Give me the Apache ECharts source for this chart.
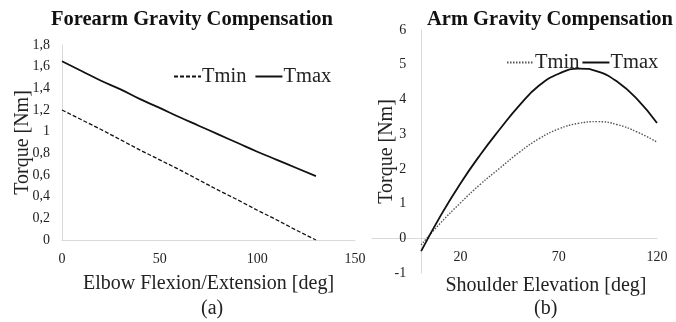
<!DOCTYPE html>
<html>
<head>
<meta charset="utf-8">
<script src="https://cdn.jsdelivr.net/npm/echarts@6/dist/echarts.min.js"></script>
<style>
  html, body { margin: 0; padding: 0; background: #fff; }
  #chart { width: 676px; height: 322px; }
</style>
</head>
<body>
<div id="chart"></div>
<script>
// (a) forearm
var forearmAngle = [0, 10, 20, 30, 40, 50, 60, 70, 80, 90, 100, 110, 120, 130];
var forearmTmin = [1.2, 1.11, 1.02, 0.925, 0.83, 0.74, 0.65, 0.555, 0.46, 0.37, 0.275, 0.185, 0.09, 0];
var forearmTmax = [1.65, 1.56, 1.47, 1.39, 1.3, 1.22, 1.135, 1.055, 0.975, 0.895, 0.815, 0.74, 0.665, 0.59];

// (b) arm
var armAngle = [0, 10, 20, 30, 40, 50, 60, 70, 80, 90, 100, 110, 120];
var armTmin = [-0.19, 0.45, 1.02, 1.55, 2.02, 2.48, 2.87, 3.15, 3.31, 3.36, 3.27, 3.06, 2.77];
var armTmax = [-0.37, 0.66, 1.58, 2.4, 3.14, 3.83, 4.4, 4.74, 4.89, 4.8, 4.5, 4.0, 3.32];

var forearmXTicks = [0, 50, 100, 150];
var armXTicks = [20, 70, 120];

function pairs(xs, ys) {
  return xs.map(function (x, i) { return [x, ys[i]]; });
}

var serif = 'Liberation Serif';
var txt = '#222';
var axisGray = '#d9d9d9';

// right plot: axes cross at (0, 0) like the Excel original
var gB = { left: 372, top: 30, width: 285, height: 243 };
var xMinB = -25, xMaxB = 120, yMinB = -1, yMaxB = 6;
var yAxisShift = (0 - xMinB) / (xMaxB - xMinB) * gB.width;
var xAxisShift = (0 - yMinB) / (yMaxB - yMinB) * gB.height;

var chart = echarts.init(document.getElementById('chart'));

var option = {
  animation: false,
  backgroundColor: '#fff',
  textStyle: { fontFamily: serif },
  title: [{
    text: 'Forearm Gravity Compensation',
    left: 46, top: 4,
    textStyle: { fontFamily: serif, fontWeight: 'bold', fontSize: 20.5, color: '#111' }
  }, {
    text: 'Arm Gravity Compensation',
    left: 422, top: 4,
    textStyle: { fontFamily: serif, fontWeight: 'bold', fontSize: 20.5, color: '#111' }
  }],
  legend: [{
    data: ['Forearm Tmin', 'Forearm Tmax'],
    left: 168, top: 61,
    itemWidth: 27, itemHeight: 10, itemGap: 8,
    itemStyle: { opacity: 0 },
    formatter: function (n) { return n.split(' ')[1]; },
    textStyle: { fontFamily: serif, fontSize: 20.5, color: txt, padding: [0, 0, 0, -4] }
  }, {
    data: ['Arm Tmin', 'Arm Tmax'],
    left: 501, top: 47,
    itemWidth: 27, itemHeight: 10, itemGap: 2,
    itemStyle: { opacity: 0 },
    formatter: function (n) { return n.split(' ')[1]; },
    textStyle: { fontFamily: serif, fontSize: 20.5, color: txt, padding: [0, 0, 0, -4] }
  }],
  grid: [
    { left: 62, top: 45, width: 293, height: 195, outerBoundsMode: 'none', containLabel: false },
    { left: gB.left, top: gB.top, width: gB.width, height: gB.height, outerBoundsMode: 'none', containLabel: false }
  ],
  xAxis: [{
    gridIndex: 0, type: 'value', min: 0, max: 150,
    axisLine: { lineStyle: { color: axisGray, width: 1 } },
    axisTick: { show: false },
    splitLine: { show: false },
    axisLabel: { customValues: forearmXTicks, fontFamily: serif, fontSize: 14, color: txt, margin: 12 },
    name: 'Elbow Flexion/Extension [deg]',
    nameLocation: 'middle', nameGap: 34, nameMoveOverlap: false,
    nameTextStyle: { fontFamily: serif, fontSize: 20, color: txt }
  }, {
    gridIndex: 1, type: 'value', min: xMinB, max: xMaxB,
    position: 'bottom', offset: -xAxisShift,
    axisLine: { onZero: false, lineStyle: { color: axisGray, width: 1 } },
    axisTick: { show: false },
    splitLine: { show: false },
    axisLabel: { customValues: armXTicks, fontFamily: serif, fontSize: 14, color: txt, margin: 12 },
    name: 'Shoulder Elevation [deg]',
    nameLocation: 'middle', nameGap: 37, nameMoveOverlap: false,
    nameTextStyle: { fontFamily: serif, fontSize: 20, color: txt, padding: [0, 0, 0, 63] }
  }],
  yAxis: [{
    gridIndex: 0, type: 'value', min: 0, max: 1.8, interval: 0.2,
    axisLine: { show: true, lineStyle: { color: axisGray, width: 1 } },
    axisTick: { show: false },
    splitLine: { show: false },
    axisLabel: {
      fontFamily: serif, fontSize: 14, color: txt, margin: 12,
      formatter: function (v) { return String(+v.toFixed(1)).replace('.', ','); }
    },
    name: 'Torque [Nm]',
    nameLocation: 'middle', nameGap: 29, nameMoveOverlap: false,
    nameTextStyle: { fontFamily: serif, fontSize: 20, color: txt }
  }, {
    gridIndex: 1, type: 'value', min: yMinB, max: yMaxB, interval: 1,
    position: 'left', offset: -yAxisShift,
    axisLine: { show: true, onZero: false, lineStyle: { color: axisGray, width: 1 } },
    axisTick: { show: false },
    splitLine: { show: false },
    axisLabel: { fontFamily: serif, fontSize: 14, color: txt, margin: 15 },
    name: 'Torque [Nm]',
    nameLocation: 'middle', nameGap: 24, nameMoveOverlap: false,
    nameTextStyle: { fontFamily: serif, fontSize: 20, color: txt }
  }],
  graphic: [{
    type: 'text', left: 201, top: 299,
    style: { text: '(a)', font: '20px "Liberation Serif"', fill: txt }
  }, {
    type: 'text', left: 534, top: 299,
    style: { text: '(b)', font: '20px "Liberation Serif"', fill: txt }
  }],
  series: [{
    name: 'Forearm Tmin', type: 'line', xAxisIndex: 0, yAxisIndex: 0,
    symbol: 'none', color: '#111',
    lineStyle: { color: '#111', width: 1.3, type: [4, 2] },
    data: pairs(forearmAngle, forearmTmin)
  }, {
    name: 'Forearm Tmax', type: 'line', xAxisIndex: 0, yAxisIndex: 0,
    symbol: 'none', color: '#111', smooth: true,
    lineStyle: { color: '#111', width: 1.8 },
    data: pairs(forearmAngle, forearmTmax)
  }, {
    name: 'Arm Tmin', type: 'line', xAxisIndex: 1, yAxisIndex: 1,
    symbol: 'none', color: '#555', smooth: true,
    lineStyle: { color: '#555', width: 1.4, type: [1.5, 1.5] },
    data: pairs(armAngle, armTmin)
  }, {
    name: 'Arm Tmax', type: 'line', xAxisIndex: 1, yAxisIndex: 1,
    symbol: 'none', color: '#111', smooth: true,
    lineStyle: { color: '#111', width: 1.8 },
    data: pairs(armAngle, armTmax)
  }]
};

chart.setOption(option);
</script>
</body>
</html>
